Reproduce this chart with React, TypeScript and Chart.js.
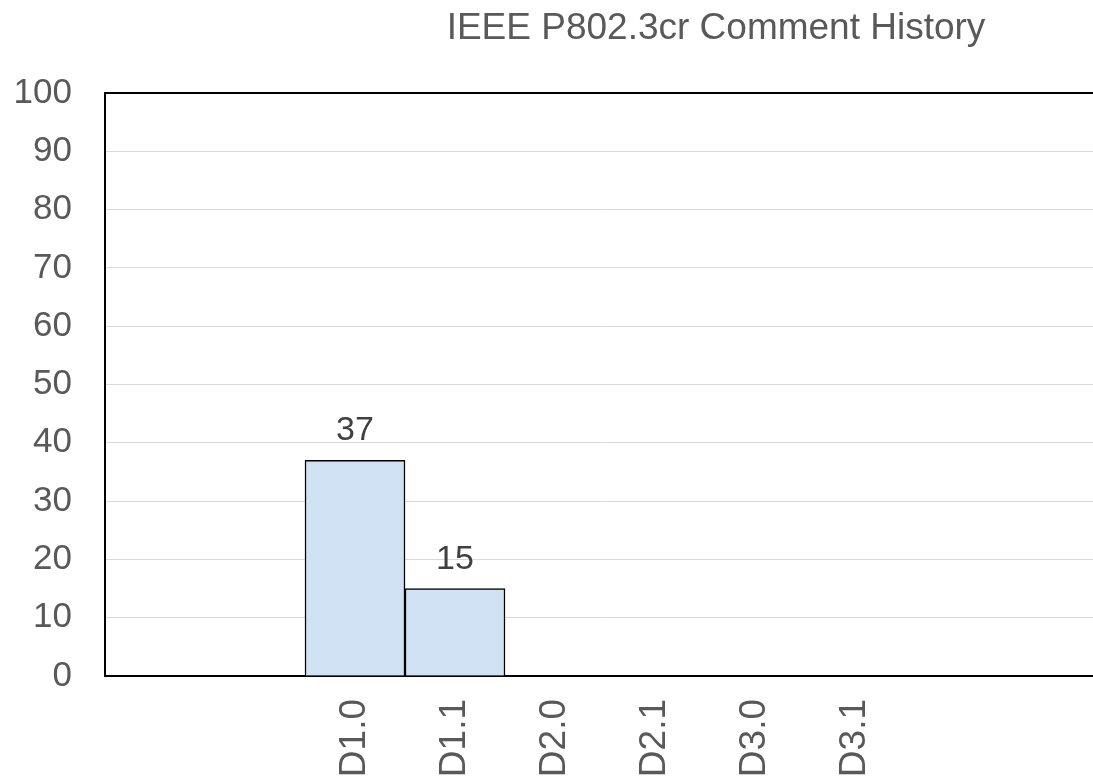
import React, { useEffect, useRef } from "react";
import { Chart, registerables } from "chart.js";

Chart.register(...registerables);

const chartTitle = "IEEE P802.3cr Comment History";
const categories = ["", "", "D1.0", "D1.1", "D2.0", "D2.1", "D3.0", "D3.1", "", ""];
const commentCounts: (number | null)[] = [null, null, 37, 15, null, null, null, null, null, null];
const yTicks = [0, 10, 20, 30, 40, 50, 60, 70, 80, 90, 100];

const FONT = "'Liberation Sans', Arial, Helvetica, sans-serif";

const titlePlugin = {
  id: "customTitle",
  afterDraw(chart: any) {
    const ctx = chart.ctx;
    ctx.save();
    ctx.font = `37px ${FONT}`;
    ctx.fillStyle = "#595959";
    ctx.textAlign = "center";
    ctx.textBaseline = "alphabetic";
    ctx.fillText(chartTitle, 716, 39);
    ctx.restore();
  },
};

const valueLabelPlugin = {
  id: "valueLabels",
  afterDatasetsDraw(chart: any) {
    const ctx = chart.ctx;
    const meta = chart.getDatasetMeta(0);
    ctx.save();
    ctx.font = `34px ${FONT}`;
    ctx.fillStyle = "#404040";
    ctx.textAlign = "center";
    ctx.textBaseline = "alphabetic";
    meta.data.forEach((bar: any, i: number) => {
      const v = commentCounts[i];
      if (v === null || v === undefined) return;
      ctx.fillText(String(v), bar.x, bar.y - 20);
    });
    ctx.restore();
  },
};

export default function App() {
  const ref = useRef<HTMLCanvasElement | null>(null);

  useEffect(() => {
    if (!ref.current) return;
    const chart = new Chart(ref.current, {
      type: "bar",
      data: {
        labels: categories,
        datasets: [
          {
            label: "Comments",
            data: commentCounts,
            backgroundColor: "#CFE1F2",
            borderColor: "#000000",
            borderWidth: 1.5,
            barPercentage: 1,
            categoryPercentage: 1,
          },
        ],
      },
      options: {
        responsive: false,
        animation: false,
        devicePixelRatio: 1,
        layout: { padding: { top: 93, left: 0, right: 327, bottom: 0 } },
        plugins: {
          legend: { display: false },
          title: { display: false },
          tooltip: { enabled: false },
        },
        scales: {
          x: {
            grid: { display: false, drawTicks: false },
            border: { display: true, color: "#000000", width: 2 },
            ticks: {
              autoSkip: false,
              maxRotation: 90,
              minRotation: 90,
              padding: 23,
              color: "#595959",
              font: { size: 37, family: FONT },
            },
            afterFit: (scale: any) => {
              scale.height = 103;
            },
          },
          y: {
            min: 0,
            max: 100,
            afterBuildTicks: (scale: any) => {
              scale.ticks = yTicks.map((v) => ({ value: v }));
            },
            grid: {
              drawTicks: false,
              color: (c: any) =>
                c.tick && c.tick.value === 100 ? "#000000" : c.tick && c.tick.value === 0 ? "rgba(0,0,0,0)" : "#D9D9D9",
              lineWidth: (c: any) => (c.tick && c.tick.value === 100 ? 2 : 1),
            },
            border: { display: true, color: "#000000", width: 2 },
            ticks: {
              padding: 33,
              color: "#595959",
              font: { size: 35, family: FONT },
            },
            afterFit: (scale: any) => {
              scale.width = 105;
            },
          },
        },
      },
      plugins: [titlePlugin, valueLabelPlugin],
    });
    return () => chart.destroy();
  }, []);

  return (
    <div
      style={{
        position: "fixed",
        left: 0,
        top: 0,
        width: 1093,
        height: 779,
        overflow: "hidden",
        background: "#ffffff",
      }}
    >
      <canvas ref={ref} width={1432} height={779} style={{ display: "block" }} />
    </div>
  );
}
